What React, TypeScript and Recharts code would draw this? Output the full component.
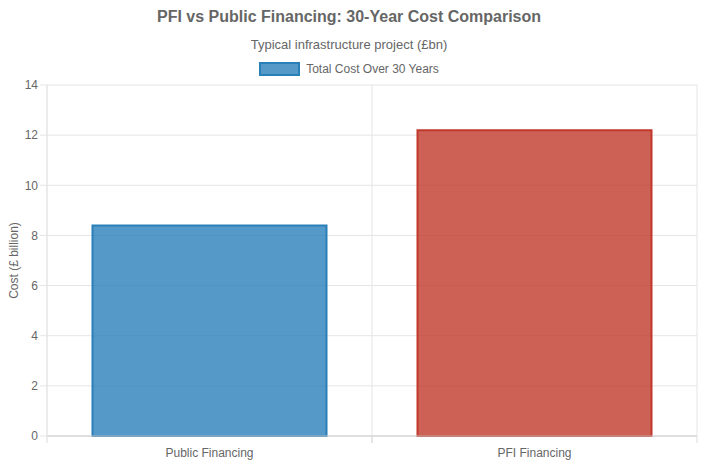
import React from "react";
import { BarChart, Bar, Cell, CartesianGrid, XAxis, YAxis } from "recharts";

const categories = ["Public Financing", "PFI Financing"];
const totalCost = [8.4, 12.2];
const yTicks = [0, 2, 4, 6, 8, 10, 12, 14];
const fills = ["rgba(41,128,185,0.8)", "rgba(192,57,43,0.8)"];
const borders = ["rgb(41,128,185)", "rgb(192,57,43)"];

const W = 721;
const H = 470;
const LEFT = 47;
const RIGHT = 24;
const TOP = 85;
const BOTTOM = 34;
const BAND = (W - LEFT - RIGHT) / categories.length;
// header block is centred on the canvas, which ends at the plot's right edge
const HEAD_W = W - RIGHT + 1;

const FONT = "'Liberation Sans', Arial, Helvetica, sans-serif";
const TEXT = "#666";

const data = categories.map((name, i) => ({ name, cost: totalCost[i] }));

const XTick = (props: any) => {
  const { x, y, payload } = props;
  return (
    <g>
      <line x1={x - BAND / 2} x2={x - BAND / 2} y1={y - 8} y2={y - 1} stroke="#ddd" />
      <line x1={x + BAND / 2} x2={x + BAND / 2} y1={y - 8} y2={y - 1} stroke="#ddd" />
      <text x={x} y={y + 13} textAnchor="middle" fill={TEXT} fontSize={12} fontFamily={FONT}>
        {payload.value}
      </text>
    </g>
  );
};

const App = () => {
  return (
    <div style={{ position: "fixed", left: 0, top: 0, width: W, height: H, background: "#fff" }}>
      <div
        style={{
          position: "absolute",
          top: 8,
          width: HEAD_W,
          textAlign: "center",
          fontFamily: FONT,
          fontWeight: "bold",
          fontSize: 16,
          color: TEXT
        }}
      >
        PFI vs Public Financing: 30-Year Cost Comparison
      </div>
      <div
        style={{
          position: "absolute",
          top: 37,
          width: HEAD_W,
          textAlign: "center",
          fontFamily: FONT,
          fontSize: 13,
          color: TEXT
        }}
      >
        Typical infrastructure project (£bn)
      </div>
      <div
        style={{
          position: "absolute",
          top: 62,
          width: HEAD_W,
          display: "flex",
          justifyContent: "center",
          alignItems: "center",
          fontFamily: FONT,
          fontSize: 12,
          color: TEXT
        }}
      >
        <span
          style={{
            display: "inline-block",
            width: 37,
            height: 10,
            background: fills[0],
            border: `2px solid ${borders[0]}`,
            marginRight: 6
          }}
        />
        Total Cost Over 30 Years
      </div>
      <div style={{ position: "absolute", left: 0, top: 0 }}>
        <BarChart
          width={W}
          height={H}
          data={data}
          margin={{ top: TOP, right: RIGHT, bottom: 0, left: 0 }}
          barCategoryGap="14%"
        >
          <CartesianGrid
            stroke="#e5e5e5"
            verticalCoordinatesGenerator={({ offset }: any) => [
              offset.left,
              offset.left + offset.width / 2,
              offset.left + offset.width
            ]}
          />
          <XAxis
            dataKey="name"
            height={BOTTOM}
            axisLine={{ stroke: "#ccc" }}
            tickLine={false}
            tick={<XTick />}
            interval={0}
          />
          <YAxis
            width={LEFT}
            domain={[0, 14]}
            ticks={yTicks}
            axisLine={{ stroke: "#e5e5e5" }}
            tickLine={{ stroke: "#e5e5e5" }}
            tickSize={7}
            tick={{ fill: TEXT, fontSize: 12, fontFamily: FONT }}
            label={{
              value: "Cost (£ billion)",
              angle: -90,
              position: "insideLeft",
              offset: 14,
              style: { fill: TEXT, fontSize: 12, fontFamily: FONT, textAnchor: "middle" }
            }}
          />
          <Bar dataKey="cost" strokeWidth={2} isAnimationActive={false}>
            {data.map((d, i) => (
              <Cell key={d.name} fill={fills[i]} stroke={borders[i]} />
            ))}
          </Bar>
        </BarChart>
      </div>
    </div>
  );
};

export default App;
